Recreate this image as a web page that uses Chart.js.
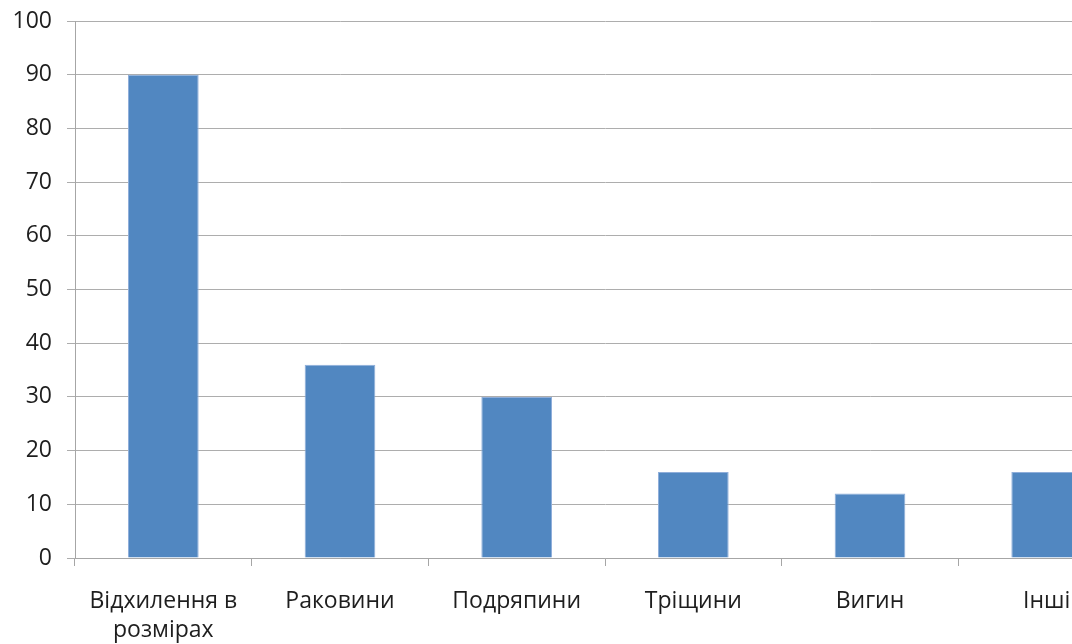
<!DOCTYPE html>
<html>
<head>
<meta charset="utf-8">
<script src="https://cdn.jsdelivr.net/npm/chart.js@4/dist/chart.umd.min.js"></script>
<style>
  html, body { margin: 0; padding: 0; background: #fff; overflow: hidden; }
  #wrap { width: 1072px; height: 644px; overflow: hidden; }
</style>
</head>
<body>
<div id="wrap"><canvas id="c" width="1141" height="644"></canvas></div>
<script>
// Кількість дефектів за видами
const categories = [['Відхилення в', 'розмірах'], 'Раковини', 'Подряпини', 'Тріщини', 'Вигин', 'Інші'];
const counts = [90, 36, 30, 16, 12, 16];
const yTicks = [0, 10, 20, 30, 40, 50, 60, 70, 80, 90, 100];

const font = { family: '"Open Sans", "Liberation Sans", sans-serif', size: 23, lineHeight: 1.26 };

new Chart(document.getElementById('c'), {
  type: 'bar',
  data: {
    labels: categories,
    datasets: [{
      data: counts,
      backgroundColor: '#5187C1',
      borderColor: '#8FAEDA',
      borderWidth: 1,
      categoryPercentage: 0.4,
      barPercentage: 1.0
    }]
  },
  options: {
    responsive: false,
    animation: false,
    layout: { padding: { top: 21, right: 6, bottom: 0, left: 0 } },
    plugins: { legend: { display: false }, tooltip: { enabled: false } },
    scales: {
      x: {
        grid: { display: true, drawOnChartArea: false, drawTicks: true, tickLength: 8, color: '#A6A6A6', lineWidth: 1 },
        border: { display: true, color: '#A6A6A6', width: 1 },
        ticks: { color: '#1e1e1e', font: font, padding: 21, maxRotation: 0, autoSkip: false },
        afterFit: (s) => { s.height = 86; }
      },
      y: {
        min: 0, max: 100,
        afterBuildTicks: (s) => { s.ticks = yTicks.map(v => ({ value: v })); },
        grid: { color: '#ADADAD', lineWidth: 1, tickLength: 8 },
        border: { display: true, color: '#A6A6A6', width: 1 },
        ticks: { color: '#1e1e1e', font: font, padding: 15 },
        afterFit: (s) => { s.width = 75; s.paddingTop = 0; s.paddingBottom = 0; }
      }
    }
  }
});
</script>
</body>
</html>
